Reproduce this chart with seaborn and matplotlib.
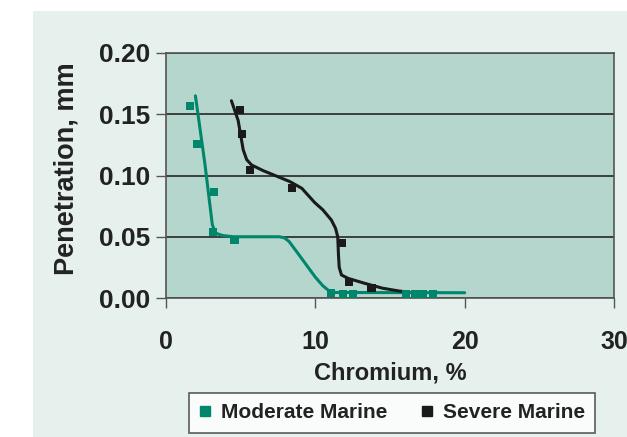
import matplotlib
matplotlib.use("Agg")
import matplotlib.pyplot as plt
import seaborn as sns
import pandas as pd
from matplotlib.patches import Rectangle
from matplotlib.lines import Line2D

# ---- data ----
mod_x = [1.63, 2.06, 3.24, 3.15, 4.59, 11.07, 11.86, 12.53, 16.1, 16.67, 17.2, 17.9]
mod_y = [0.157, 0.1255, 0.0868, 0.0536, 0.047, 0.004, 0.003, 0.003, 0.003, 0.003, 0.003, 0.003]
sev_x = [4.94, 5.10, 5.64, 8.46, 11.79, 12.28, 13.76]
sev_y = [0.1535, 0.134, 0.1045, 0.0898, 0.0446, 0.0128, 0.0079]

mod_curve_x = [1.97, 2.6, 3.1, 3.3, 3.8, 4.5, 6.0, 7.6, 7.95, 8.25, 8.8, 9.4, 10.0, 10.5, 10.9, 11.3, 20.0]
mod_curve_y = [0.165, 0.11, 0.06, 0.053, 0.051, 0.050, 0.050, 0.050, 0.049, 0.046, 0.037, 0.027, 0.017, 0.010, 0.006, 0.0045, 0.0043]
sev_curve_x = [4.38, 4.83, 5.17, 5.4, 5.73, 6.5, 7.5, 8.3, 9.1, 9.95, 10.5, 11.07, 11.35, 11.5, 11.55, 11.6, 11.75, 12.2, 13.3, 14.5, 15.6, 16.2]
sev_curve_y = [0.161, 0.145, 0.121, 0.113, 0.1086, 0.104, 0.099, 0.095, 0.0895, 0.078, 0.072, 0.0637, 0.057, 0.050, 0.035, 0.025, 0.0188, 0.016, 0.012, 0.008, 0.0057, 0.0049]

x_ticks = [0, 10, 20, 30]
y_ticks = [0.00, 0.05, 0.10, 0.15, 0.20]
series_names = ["Moderate Marine", "Severe Marine"]

GREEN = "#00876b"
BLACK = "#1a1a1a"
PLOT_BG = "#b4d6cc"
PANEL_BG = "#e6f1ed"
TXT = "#222222"

sns.set_style("white")
plt.rcParams['font.family'] = ['Liberation Sans', 'DejaVu Sans']

W, H = 627, 437
fig = plt.figure(figsize=(W / 100, H / 100), dpi=100, facecolor="white")
fig.patches.append(Rectangle((33 / W, 0), 1, (H - 11) / H, transform=fig.transFigure,
                             facecolor=PANEL_BG, edgecolor="none", zorder=-10))

ax = fig.add_axes([166 / W, (H - 298) / H, (614 - 166) / W, (298 - 53) / H])
ax.set_facecolor(PLOT_BG)

df_mc = pd.DataFrame({"x": mod_curve_x, "y": mod_curve_y})
df_sc = pd.DataFrame({"x": sev_curve_x, "y": sev_curve_y})
sns.lineplot(data=df_mc, x="x", y="y", sort=False, color=GREEN, lw=2.2, ax=ax, zorder=3)
sns.lineplot(data=df_sc, x="x", y="y", sort=False, color=BLACK, lw=2.2, ax=ax, zorder=3)

df_m = pd.DataFrame({"x": mod_x, "y": mod_y})
df_s = pd.DataFrame({"x": sev_x, "y": sev_y})
sns.scatterplot(data=df_m, x="x", y="y", marker="s", s=34, color=GREEN, edgecolor="none", ax=ax, zorder=4)
sns.scatterplot(data=df_s, x="x", y="y", marker="s", s=34, color=BLACK, edgecolor="none", ax=ax, zorder=4)

ax.set_xlim(0, 30)
ax.set_ylim(0, 0.20)
ax.set_xticks(x_ticks)
ax.set_yticks(y_ticks)
ax.set_xticklabels([str(t) for t in x_ticks], fontsize=18, fontweight="bold", color=TXT)
ax.set_yticklabels([f"{t:.2f}" for t in y_ticks], fontsize=19, fontweight="bold", color=TXT)
ax.yaxis.grid(True, color="#333333", lw=1.3)
ax.set_axisbelow(True)
ax.tick_params(axis="both", direction="out", length=7, width=1, color="#555555",
               bottom=True, left=True)
ax.tick_params(axis="y", pad=4)
ax.tick_params(axis="x", pad=16)
for sp in ax.spines.values():
    sp.set_color("#555555")
    sp.set_linewidth(1.2)

ax.set_xlabel("Chromium, %", fontsize=17, fontweight="bold", color=TXT)
ax.set_ylabel("Penetration, mm", fontsize=19.5, fontweight="bold", color=TXT)
ax.xaxis.set_label_coords(0.5, (298 - 373) / 245)
ax.xaxis.label.set_va("center")
ax.yaxis.set_label_coords((67 - 166) / 448, (298 - 169) / 245)
ax.yaxis.label.set_va("center")

handles = [Line2D([], [], marker="s", ls="none", color=GREEN, markersize=6.5),
           Line2D([], [], marker="s", ls="none", color=BLACK, markersize=6.5)]
leg = fig.legend(handles, series_names, loc="center", bbox_to_anchor=((184 + 600) / 2 / W, 1 - 413 / H),
                 ncol=2, frameon=True, fancybox=False, handlelength=0.6, handletextpad=0.45,
                 columnspacing=1.6, borderpad=0.5, borderaxespad=0,
                 prop={"family": "Liberation Sans", "weight": "bold", "size": 15})
leg.get_frame().set_edgecolor("#333333")
leg.get_frame().set_linewidth(1.2)
leg.get_frame().set_facecolor("white")
for t in leg.get_texts():
    t.set_color(TXT)

fig.savefig("out.png", dpi=100, facecolor="white")
